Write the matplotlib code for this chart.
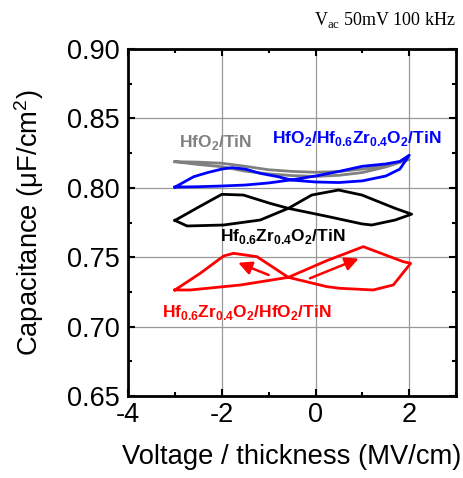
import numpy as np
import matplotlib.pyplot as plt
from matplotlib.ticker import MultipleLocator

plt.rcParams['font.family'] = ['Liberation Sans', 'DejaVu Sans']
plt.rcParams['mathtext.fontset'] = 'custom'
plt.rcParams['mathtext.rm'] = 'Liberation Serif'
plt.rcParams['mathtext.sf'] = 'Liberation Sans'
plt.rcParams['mathtext.bf'] = 'Liberation Sans:bold'
plt.rcParams['axes.unicode_minus'] = False

# HfO2/TiN loop (gray)
hfo2_x = [-3, -2.5, -2, -1.5, -1, -0.5, 0, 0.5, 1, 1.5, 2,
          1.5, 1, 0.5, 0, -0.5, -1, -1.5, -2, -2.5, -3]
hfo2_y = [0.8188, 0.8185, 0.8177, 0.8155, 0.8130, 0.8118, 0.8112, 0.8117, 0.8135, 0.8160, 0.8205,
          0.8150, 0.8110, 0.8090, 0.8082, 0.8088, 0.8100, 0.8120, 0.8152, 0.8168, 0.8188]

# HfO2/Hf0.6Zr0.4O2/TiN loop (blue)
bilayer_x = [-3, -2.6, -2.3, -2, -1.78, -1.5, -1.18, -0.8, -0.5, 0, 0.5, 1, 1.5, 1.8, 2,
             1.8, 1.5, 1, 0.5, 0, -0.5, -1, -1.5, -2, -2.5, -3]
bilayer_y = [0.8005, 0.8080, 0.8110, 0.8135, 0.8145, 0.8135, 0.8104, 0.8080, 0.8055, 0.8042, 0.8038,
             0.8050, 0.8085, 0.8135, 0.8235,
             0.8190, 0.8172, 0.8155, 0.8118, 0.8085, 0.8058, 0.8035, 0.8020, 0.8013, 0.8008, 0.8005]

# Hf0.6Zr0.4O2/TiN loop (black)
hzo_x = [-3, -2.5, -2, -1.54, -0.97, -0.58, 0.28, 0.99, 1.2, 1.7, 2.05,
         1.7, 0.99, 0.49, -0.08, -0.58, -1.18, -1.96, -2.74, -3]
hzo_y = [0.7765, 0.7860, 0.7953, 0.7948, 0.7888, 0.7852, 0.7792, 0.7740, 0.7732, 0.7768, 0.7810,
         0.7852, 0.7948, 0.7984, 0.7948, 0.7852, 0.7768, 0.7732, 0.7725, 0.7765]

# Hf0.6Zr0.4O2/HfO2/TiN loop (red)
hzo_hfo2_x = [-3, -2.46, -1.96, -1.75, -1.25, -0.58, 0.24, 0.52, 1.23, 1.66, 2.03,
              1.87, 1.02, 0.24, -0.58, -1.6, -2.67, -3]
hzo_hfo2_y = [0.7264, 0.7384, 0.7509, 0.7528, 0.7504, 0.7355, 0.7288, 0.7276, 0.7264, 0.7300, 0.7456,
              0.7468, 0.7576, 0.7475, 0.7355, 0.7300, 0.7264, 0.7264]

# sweep direction arrows (tail, head)
arrow_tails = [(-1.0, 0.7372), (-0.12, 0.7348)]
arrow_heads = [(-1.65, 0.7460), (0.92, 0.7490)]

fig = plt.figure(figsize=(4.64, 4.78), dpi=100)
ax = fig.add_axes([0.276, 0.1715, 0.707, 0.726])

ax.plot(hfo2_x, hfo2_y, color='#808080', lw=2)
ax.plot(bilayer_x, bilayer_y, color='#0000ff', lw=2)
ax.plot(hzo_x, hzo_y, color='black', lw=2)
ax.plot(hzo_hfo2_x, hzo_hfo2_y, color='#ff0000', lw=2)

for tail, head in zip(arrow_tails, arrow_heads):
    ax.annotate('', xy=head, xytext=tail,
                arrowprops=dict(arrowstyle='-|>', color='#ff0000', lw=1.8,
                                mutation_scale=20, shrinkA=0, shrinkB=0))

lab = dict(fontsize=12.5, fontweight='bold', va='center')
ax.text(-2.92, 0.8325, r'HfO$_\mathbf{2}$/TiN', color='#808080', **lab)
ax.text(-0.92, 0.8355, r'HfO$_\mathbf{2}$/Hf$_\mathbf{0.6}$Zr$_\mathbf{0.4}$O$_\mathbf{2}$/TiN',
        color='#0000ff', **lab)
ax.text(-2.03, 0.7650, r'Hf$_\mathbf{0.6}$Zr$_\mathbf{0.4}$O$_\mathbf{2}$/TiN',
        color='black', **lab)
ax.text(-3.28, 0.7102, r'Hf$_\mathbf{0.6}$Zr$_\mathbf{0.4}$O$_\mathbf{2}$/HfO$_\mathbf{2}$/TiN',
        color='#ff0000', **lab)

fig.text(0.983, 0.958, r'V$_\mathrm{ac}$ 50mV 100 kHz', family='Liberation Serif',
         fontsize=13, ha='right', va='center')

ax.set_xlim(-4, 3)
ax.set_ylim(0.65, 0.90)
ax.xaxis.set_major_locator(MultipleLocator(2))
ax.xaxis.set_minor_locator(MultipleLocator(1))
ax.yaxis.set_minor_locator(MultipleLocator(0.025))
ax.set_yticks([0.65, 0.70, 0.75, 0.80, 0.85, 0.90])
ax.set_yticklabels(['0.65', '0.70', '0.75', '0.80', '0.85', '0.90'])
ax.grid(True, which='major', color='#999999', lw=0.9)
ax.set_axisbelow(True)

ax.tick_params(which='both', direction='in', top=True, right=True, width=1.5, labelsize=19.5)
ax.tick_params(axis='x', pad=4)
ax.tick_params(axis='y', pad=6)
ax.tick_params(which='major', length=5)
ax.tick_params(which='minor', length=3)
for sp in ax.spines.values():
    sp.set_linewidth(2)

ax.set_xlabel('Voltage / thickness (MV/cm)', fontsize=19.7, labelpad=12)
ax.set_ylabel(r'Capacitance (μF/cm$^\mathsf{2}$)', fontsize=19.7, labelpad=15)

fig.savefig('out.png', dpi=100)
